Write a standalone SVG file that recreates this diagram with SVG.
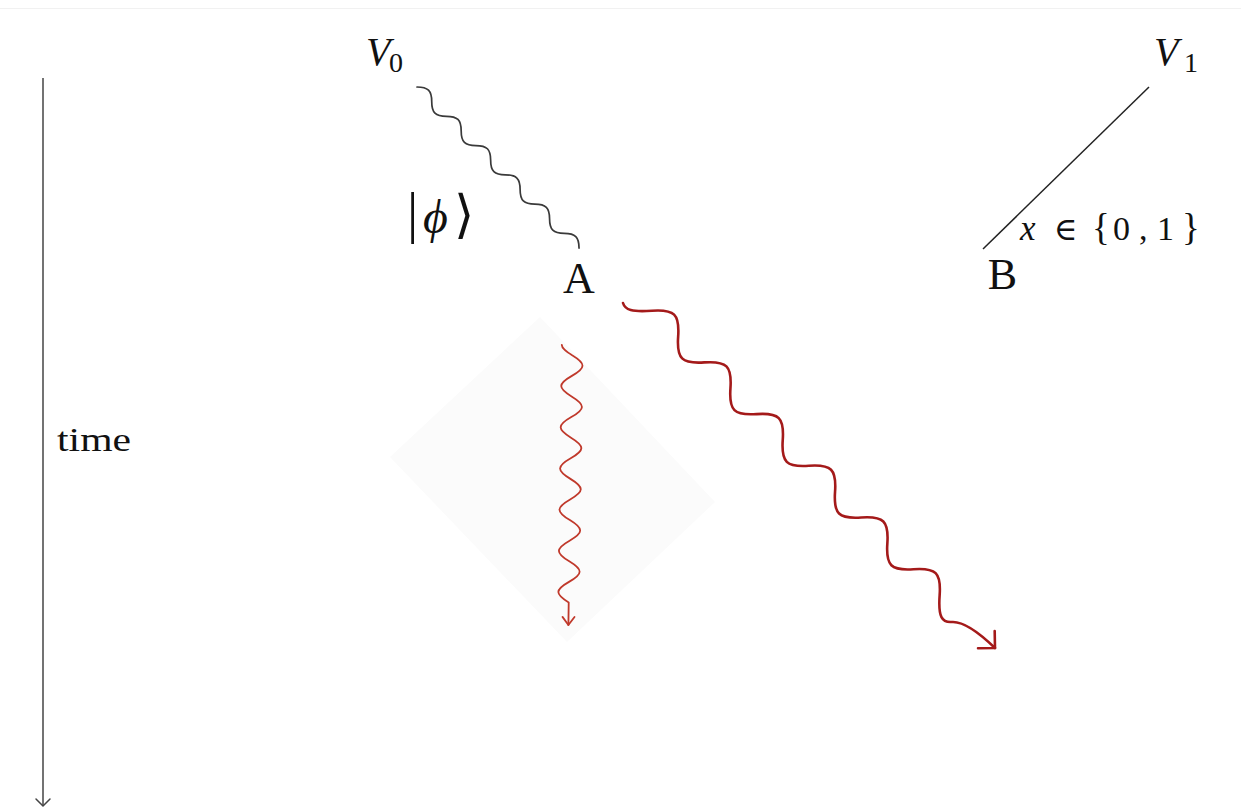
<svg xmlns="http://www.w3.org/2000/svg" width="1241" height="811" viewBox="0 0 1241 811">
  <style>
    .serif { font-family: "Liberation Serif", "DejaVu Serif", "DejaVu Sans", serif; fill: #111; }
    .it { font-style: italic; }
    .wave { fill: none; stroke-linecap: round; stroke-linejoin: round; }
  </style>
  <defs>
    <marker id="arrBig" markerUnits="userSpaceOnUse" markerWidth="30" markerHeight="30" viewBox="-15 -15 30 30" refX="0" refY="0" orient="auto" overflow="visible">
      <path d="M-12,-12 L0,0 L-12,12" fill="none" stroke="#a41a1a" stroke-width="2.6" stroke-linecap="round" stroke-linejoin="round"/>
    </marker>
    <marker id="arrSmall" markerUnits="userSpaceOnUse" markerWidth="20" markerHeight="20" viewBox="-10 -10 20 20" refX="0" refY="0" orient="auto" overflow="visible">
      <path d="M-8,-6 L0,0 L-8,6" fill="none" stroke="#c0392b" stroke-width="1.8" stroke-linecap="round" stroke-linejoin="round"/>
    </marker>
    <marker id="arrTime" markerUnits="userSpaceOnUse" markerWidth="20" markerHeight="20" viewBox="-10 -10 20 20" refX="0" refY="0" orient="auto" overflow="visible">
      <path d="M-7,-7 L0,0 L-7,7" fill="none" stroke="#444" stroke-width="1.5" stroke-linecap="round" stroke-linejoin="round"/>
    </marker>
  </defs>

  <rect x="0" y="0" width="1241" height="811" fill="#ffffff"/>
  <line x1="0" y1="8.5" x2="1241" y2="8.5" stroke="#f1f1f1" stroke-width="1"/>

  <!-- faint light cone -->
  <polygon id="cone" points="540,317 715,502 567,642 390,457" fill="#fbfbfb"/>

  <!-- time axis -->
  <g id="time-axis">
    <line x1="43" y1="78" x2="43" y2="806" stroke="#444" stroke-width="1.5" marker-end="url(#arrTime)"/>
    <text class="serif" x="57" y="451" font-size="33" textLength="74" lengthAdjust="spacingAndGlyphs">time</text>
  </g>

  <!-- nodes -->
  <g id="node-V0">
    <text class="serif it" x="366" y="65" font-size="40">V</text>
    <text class="serif" x="389" y="72" font-size="28">0</text>
  </g>
  <g id="node-V1">
    <text class="serif it" x="1154" y="65" font-size="40">V</text>
    <text class="serif" x="1184" y="72" font-size="28">1</text>
  </g>
  <g id="node-A">
    <text class="serif" x="579" y="293" font-size="44" text-anchor="middle">A</text>
  </g>
  <g id="node-B">
    <text class="serif" x="1002.5" y="289" font-size="44" text-anchor="middle">B</text>
  </g>

  <!-- connectors -->
  <g id="connectors">
    <!-- V0 -> A : black wavy -->
    <path class="wave" stroke="#3a3a3a" stroke-width="1.7"
      d="M417,87 c11,0 14.73,3.64 14.73,14.64 s3.73,14.64 14.73,14.64 s14.73,3.64 14.73,14.64 s3.73,14.64 14.73,14.64 s14.73,3.64 14.73,14.64 s3.73,14.64 14.73,14.64 s14.73,3.64 14.73,14.64 s3.73,14.64 14.73,14.64 s14.73,3.64 14.73,14.64 s3.73,14.64 14.73,14.64 s14.73,3.64 14.73,14.64"/>
    <!-- V1 -> B : straight line -->
    <line x1="1149" y1="87" x2="983" y2="249" stroke="#222" stroke-width="1.5"/>
    <!-- A -> down-right : big red wavy arrow -->
    <path class="wave" stroke="#a41a1a" stroke-width="2.6" marker-end="url(#arrBig)"
      d="M623,303 C625,310 632,312.1 652,310.7 c22.52,-1.6 27.75,3.57 26.15,25.85 s3.63,27.45 26.15,25.85 s27.75,3.57 26.15,25.85 s3.63,27.45 26.15,25.85 s27.75,3.57 26.15,25.85 s3.63,27.45 26.15,25.85 s27.75,3.57 26.15,25.85 s3.63,27.45 26.15,25.85 s27.75,3.57 26.15,25.85 s3.63,27.45 26.15,25.85 s27.75,3.57 26.15,25.85 C938.05,617.33 942,622.8 952,622 Q967,621 995,648"/>
    <!-- A -> down : small red wavy arrow -->
    <path class="wave" stroke="#c0392b" stroke-width="1.8" transform="translate(572.3,345) rotate(90.8)" marker-end="url(#arrSmall)"
      d="M0,10.5 c3.73,0 6.94,-5.12 10.3,-10.5 c8.24,-14 12.36,-14 20.6,0 s12.36,14 20.6,0 s12.36,-14 20.6,0 s12.36,14 20.6,0 s12.36,-14 20.6,0 s12.36,14 20.6,0 s12.36,-14 20.6,0 s12.36,14 20.6,0 s12.36,-14 20.6,0 s12.36,14 20.6,0 s12.36,-14 20.6,0 s12.36,14 20.6,0 L280,0"/>
  </g>

  <!-- labels -->
  <g id="label-phi">
    <text class="serif" x="407" y="232" font-size="56">|</text>
    <text class="serif it" x="423" y="233" font-size="48">ϕ</text>
    <text class="serif" x="454" y="232" font-size="52">⟩</text>
  </g>
  <g id="label-x">
    <text class="serif it" x="1020" y="240" font-size="35">x</text>
    <text class="serif" x="1054" y="240" font-size="32">∈</text>
    <text class="serif" x="1092" y="240" font-size="37">{</text>
    <text class="serif" x="1113" y="240" font-size="34">0</text>
    <text class="serif" x="1139" y="240" font-size="34">,</text>
    <text class="serif" x="1157" y="240" font-size="34">1</text>
    <text class="serif" x="1182" y="240" font-size="37">}</text>
  </g>
</svg>
